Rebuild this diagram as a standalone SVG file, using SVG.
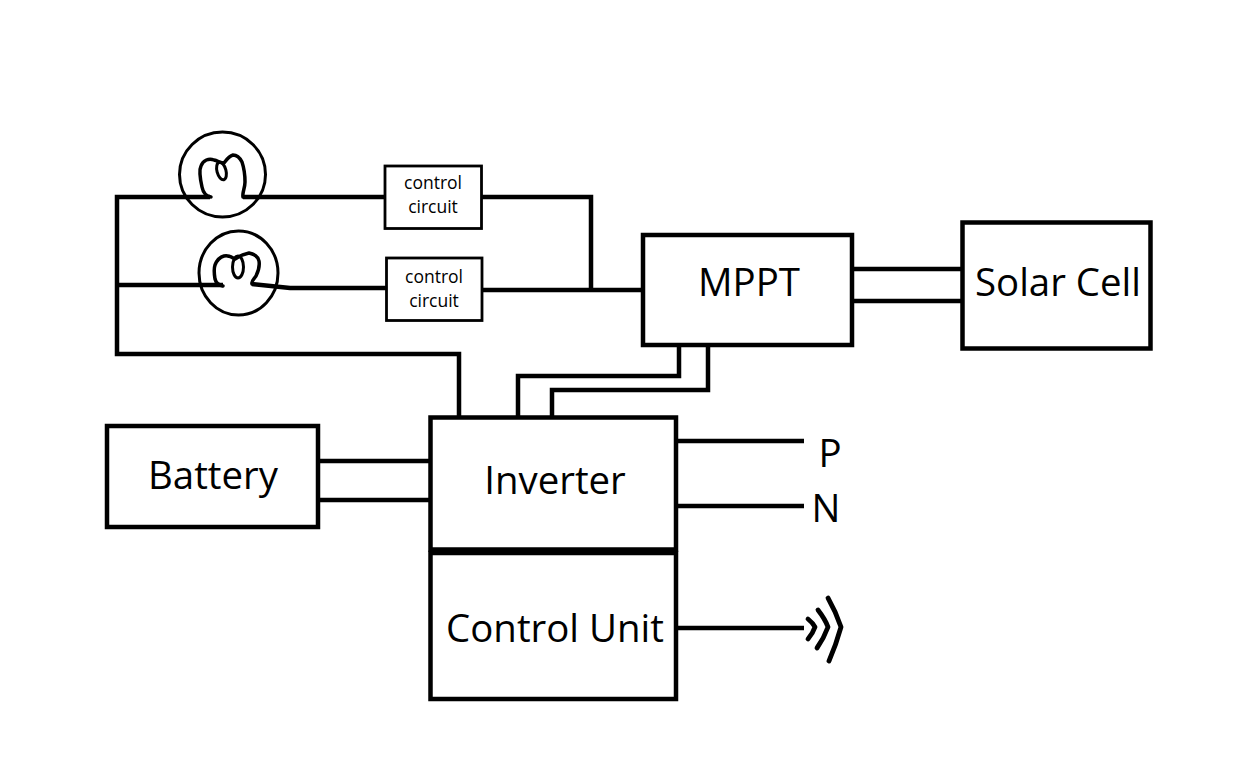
<svg xmlns="http://www.w3.org/2000/svg" width="1250" height="783" viewBox="0 0 1250 783">
<style>
.b{fill:#fff;stroke:#000;stroke-width:4.500}
.s{fill:#fff;stroke:#000;stroke-width:2.800}
.w{fill:none;stroke:#000;stroke-width:4.500;stroke-linejoin:miter}
.c{fill:none;stroke:#000;stroke-width:3;stroke-linejoin:round}
.f{fill:none;stroke:#000;stroke-width:3.500;stroke-linejoin:round;stroke-linecap:round}
.a{fill:none;stroke:#000;stroke-width:4.800;stroke-linecap:round;stroke-linejoin:round}
text{font-family:"Open Sans","Noto Sans",sans-serif;fill:#000;text-anchor:middle}
.l{font-size:38.400px}
.m{font-size:17.500px}
</style>
<rect width="1250" height="783" fill="#fff"/>
<g id="connectors">
<path class="w" d="M210 197H117V354H459V417"/>
<path class="w" d="M243 197H385"/>
<path class="w" d="M117 285H223"/>
<path class="w" d="M252 284L290 288H386"/>
<path class="w" d="M482 197H591V290"/>
<path class="w" d="M482 290H643"/>
<path class="w" d="M852 269H962M852 301H962"/>
<path class="w" d="M679 346V376H518V417"/>
<path class="w" d="M708 346V390H552V417"/>
<path class="w" d="M318 461H430M318 500H430"/>
<path class="w" d="M676 441H804M676 506H804"/>
<path class="w" d="M676 628H804"/>
</g>
<g id="lamp1">
<ellipse class="c" cx="222.500" cy="174.500" rx="43" ry="42.500"/>
<path class="f" d="M211 197C205 196 203 192 202 187C200 178 199 170 201 166C203 160 209 158 214 160C218 161 221 163 224 163C227 159 229 156 233 155C237 155 240 158 242 162C244 168 245 175 245 182C245 188 242 193 243 197"/>
<ellipse class="c" cx="221.500" cy="171" rx="4.500" ry="9" transform="rotate(-15 221.500 171)"/>
</g>
<g id="lamp2">
<ellipse class="c" cx="238.500" cy="273" rx="39.500" ry="42"/>
<path class="f" d="M223 286C218 285 216 283 215 279C214 273 214 268 215 265C217 260 220 257 224 256C228 255 232 257 235 259C239 256 244 254 249 253C254 254 258 256 259 261C260 267 258 272 256 276C254 279 251 281 252 284"/>
<ellipse class="c" cx="238" cy="267" rx="5.500" ry="11"/>
</g>
<g id="circuit1">
<rect class="s" x="385" y="166" width="96.500" height="62.500"/>
<text class="m" x="433" y="189">control</text>
<text class="m" x="433" y="213">circuit</text>
</g>
<g id="circuit2">
<rect class="s" x="386.500" y="258" width="95.500" height="62.500"/>
<text class="m" x="434" y="283">control</text>
<text class="m" x="434" y="307">circuit</text>
</g>
<g id="mppt">
<rect class="b" x="643" y="235" width="209" height="110"/>
<text class="l" x="749" y="296">MPPT</text>
</g>
<g id="solar">
<rect class="b" x="962.500" y="222.500" width="188" height="126"/>
<text class="l" x="1058" y="296">Solar Cell</text>
</g>
<g id="battery">
<rect class="b" x="107" y="426" width="211" height="101"/>
<text class="l" x="213" y="489">Battery</text>
</g>
<g id="inverter">
<rect class="b" x="430.500" y="417.500" width="245.500" height="132"/>
<text class="l" x="555" y="494">Inverter</text>
</g>
<g id="control-unit">
<rect class="b" x="430.500" y="553" width="245.500" height="146"/>
<text class="l" x="555" y="642">Control Unit</text>
</g>
<g id="p"><text class="l" x="830" y="467">P</text></g>
<g id="n"><text class="l" x="826" y="522">N</text></g>
<g id="antenna">
<path class="a" d="M808 619Q813 623 815 627Q813 633 808 639"/>
<path class="a" d="M818 610Q825 619 828 627Q824 638 817 648"/>
<path class="a" d="M828 598Q836 612 841 627Q836 645 829 661"/>
</g>
</svg>
